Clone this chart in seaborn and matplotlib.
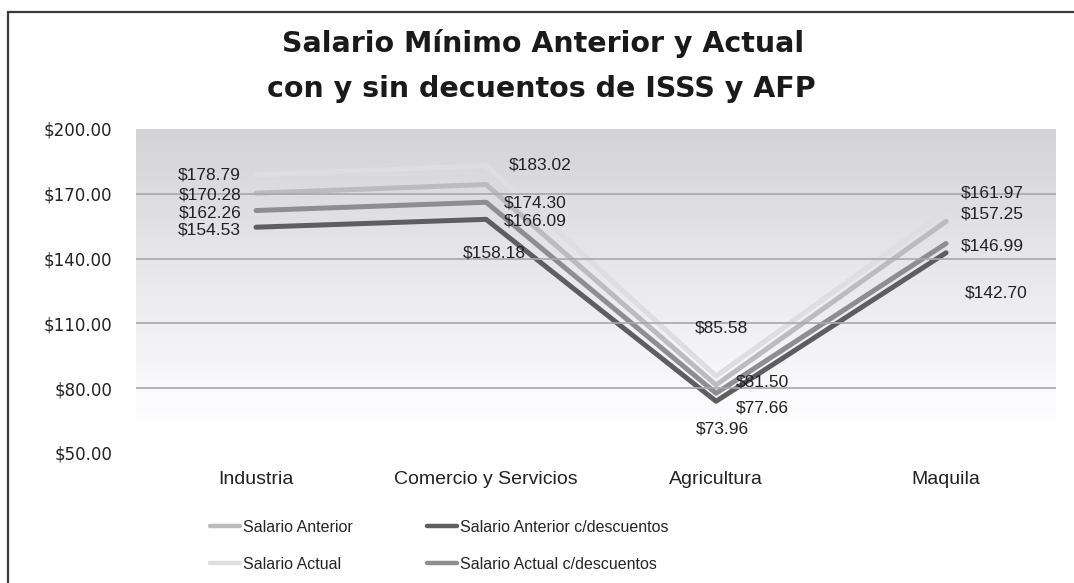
import numpy as np
import pandas as pd
import matplotlib
matplotlib.use("Agg")
import matplotlib.pyplot as plt
import matplotlib.patches as patches
import seaborn as sns

#Chart data
sectores = ["Industria", "Comercio y Servicios", "Agricultura", "Maquila"]
series = ["Salario Anterior", "Salario Anterior c/descuentos",
          "Salario Actual", "Salario Actual c/descuentos"]
salario_anterior = [170.28, 174.30, 81.50, 157.25]
salario_anterior_desc = [154.53, 158.18, 73.96, 142.70]
salario_actual = [178.79, 183.02, 85.58, 161.97]
salario_actual_desc = [162.26, 166.09, 77.66, 146.99]
y_ticks = [50, 80, 110, 140, 170, 200]

valores = {"Salario Anterior": salario_anterior,
           "Salario Anterior c/descuentos": salario_anterior_desc,
           "Salario Actual": salario_actual,
           "Salario Actual c/descuentos": salario_actual_desc}

#Long table for seaborn
rows = []
for s in series:
    for sec, v in zip(sectores, valores[s]):
        rows.append({"Sector": sec, "Serie": s, "Salario": v})
df = pd.DataFrame(rows)

colores = {"Salario Anterior": "#bcbcbe",
           "Salario Anterior c/descuentos": "#5e5e60",
           "Salario Actual": "#dedee0",
           "Salario Actual c/descuentos": "#8e8e90"}

sns.set_style("white")
plt.rcParams["font.family"] = ["Liberation Sans", "DejaVu Sans"]

fig = plt.figure(figsize=(10.74, 5.83), dpi=100)
ax = fig.add_axes([136/1074, 1-453/583, (1056-136)/1074, (453-129)/583])

#Gradient background of the plot area
n = 300
t = np.linspace(0, 1, n)[:, None]  # 0 top -> 1 bottom
g = np.clip(0.83 + 0.17 * t / 0.92, 0, 1)
img = np.dstack([g, g, np.clip(g + 0.01, 0, 1)])
img = np.repeat(img, 2, axis=1)
ax.imshow(img, extent=[0, 1, 0, 1], transform=ax.transAxes,
          aspect="auto", zorder=0, interpolation="bilinear")

#Lines
sns.lineplot(data=df, x="Sector", y="Salario", hue="Serie",
             hue_order=series, palette=colores, linewidth=3.6,
             sort=False, ax=ax, legend=True)
handles, labels = ax.get_legend_handles_labels()
ax.get_legend().remove()

ax.set_xlim(-0.522, 3.478)
ax.set_ylim(50, 200)
ax.set_yticks(y_ticks)
ax.set_yticklabels(["$%.2f" % v for v in y_ticks], family="DejaVu Sans",
                   fontsize=12, color="#222222")
ax.tick_params(axis="y", length=0, pad=17)
ax.tick_params(axis="x", length=0, pad=13, labelsize=14, labelcolor="#222222")
ax.set_xlabel("")
ax.set_ylabel("")
for sp in ax.spines.values():
    sp.set_visible(False)
ax.yaxis.grid(True, color="#a8a8a8", linewidth=1.2)
ax.set_axisbelow(False)
gl = ax.get_ygridlines()
gl[0].set_visible(False)
gl[-1].set_visible(False)
for line in gl:
    line.set_zorder(1)

#Data labels (offsets in pixels: dx, dy, ha)
offsets = {
    "Salario Actual": [(-15, 0, "right"), (23, 1, "left"), (5, 48, "center"), (15, 18, "left")],
    "Salario Anterior": [(-15, -2, "right"), (18, -18, "left"), (20, 3, "left"), (15, 7, "left")],
    "Salario Actual c/descuentos": [(-15, -2, "right"), (18, -19, "left"), (20, -15, "left"), (15, -2, "left")],
    "Salario Anterior c/descuentos": [(-15, -3, "right"), (8, -34, "center"), (6, -28, "center"), (19, -40, "left")],
}
for s in series:
    for i, v in enumerate(valores[s]):
        dx, dy, ha = offsets[s][i]
        ax.annotate("$%.2f" % v, (i, v), xytext=(dx, dy),
                    textcoords="offset pixels", ha=ha, va="center",
                    fontsize=12.5, color="#222222", zorder=5)

#Title
fig.text(0.506, 1-44/583, "Salario Mínimo Anterior y Actual",
         ha="center", va="center", fontsize=20.5, fontweight="bold",
         family="DejaVu Sans", color="#1a1a1a")
fig.text(0.504, 1-89/583, "con y sin decuentos de ISSS y AFP",
         ha="center", va="center", fontsize=20.5, fontweight="bold",
         family="DejaVu Sans", color="#1a1a1a")

#Legend, column order: anterior/actual then c/descuentos
orden = ["Salario Anterior", "Salario Actual",
         "Salario Anterior c/descuentos", "Salario Actual c/descuentos"]
hmap = dict(zip(labels, handles))
leg = fig.legend([hmap[o] for o in orden], orden, ncol=2,
                 loc="upper left", bbox_to_anchor=(210/1074, 1-520/583),
                 frameon=False, handlelength=1.9,
                 handletextpad=0.15, columnspacing=4.65, labelspacing=1.35,
                 borderpad=0, borderaxespad=0,
                 prop={"family": "Liberation Sans", "size": 11.5})
for h in leg.legend_handles:
    h.set_linewidth(3.2)

#Outer frame (left and top visible)
fig.patches.append(patches.Rectangle((8/1074, -0.2), 1.2, 1.2 - 12/583,
                                     transform=fig.transFigure, fill=False,
                                     edgecolor="#3a3a3a", linewidth=1.6))

fig.savefig("out.png", dpi=100)
